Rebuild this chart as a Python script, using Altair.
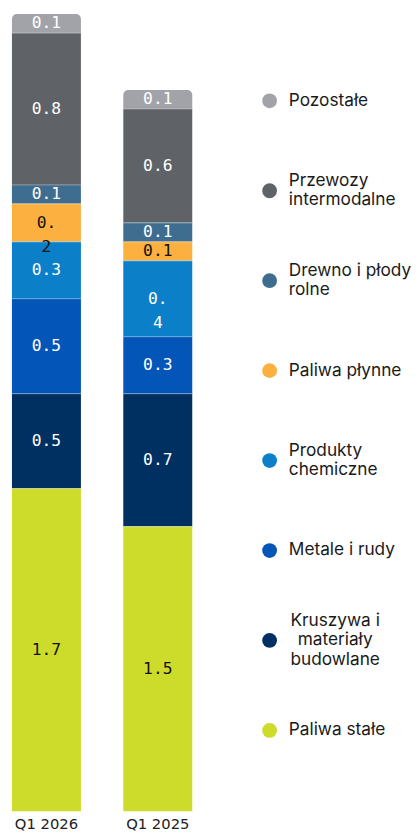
import altair as alt
import pandas as pd

periods = ["Q1 2026", "Q1 2025"]
categories = [
    "Pozostałe",
    "Przewozy intermodalne",
    "Drewno i płody rolne",
    "Paliwa płynne",
    "Produkty chemiczne",
    "Metale i rudy",
    "Kruszywa i materiały budowlane",
    "Paliwa stałe",
]
values_q1_2026 = [0.1, 0.8, 0.1, 0.2, 0.3, 0.5, 0.5, 1.7]
values_q1_2025 = [0.1, 0.6, 0.1, 0.1, 0.4, 0.3, 0.7, 1.5]
labels_q1_2026 = ["0.1", "0.8", "0.1", "0.\n2", "0.3", "0.5", "0.5", "1.7"]
labels_q1_2025 = ["0.1", "0.6", "0.1", "0.1", "0.\n4", "0.3", "0.7", "1.5"]
legend_labels = [
    "Pozostałe",
    "Przewozy\nintermodalne",
    "Drewno i płody\nrolne",
    "Paliwa płynne",
    "Produkty\nchemiczne",
    "Metale i rudy",
    "Kruszywa i\nmateriały\nbudowlane",
    "Paliwa stałe",
]
colors = ["#a2a3a8", "#5f6368", "#3e6d90", "#fbb040", "#0b7fc7", "#0356b8", "#002f62", "#cddc2b"]

rows = []
for p, vals, labs in [(periods[0], values_q1_2026, labels_q1_2026),
                      (periods[1], values_q1_2025, labels_q1_2025)]:
    for i, (c, v, l) in enumerate(zip(categories, vals, labs)):
        rows.append({"period": p, "category": c, "value": v, "label": l,
                     "rank": len(categories) - 1 - i})
df = pd.DataFrame(rows)

legend_df = pd.DataFrame({
    "category": categories,
    "label": legend_labels,
    "lines": [len(s.split("\n")) for s in legend_labels],
})

color_scale = alt.Scale(domain=categories, range=colors)

base = alt.Chart(df).transform_stack(
    stack="value", groupby=["period"], as_=["y0", "y1"],
    sort=[alt.SortField("rank", order="ascending")],
).transform_calculate(mid="(datum.y0 + datum.y1) / 2")

x_enc = alt.X(
    "period:N",
    sort=periods,
    scale=alt.Scale(paddingInner=0.3805, paddingOuter=0.0354),
    axis=alt.Axis(title=None, labelAngle=0, domain=False, ticks=False,
                  labelFont="DejaVu Sans", labelFontSize=15, labelColor="#222222",
                  labelPadding=6),
)
y_scale = alt.Scale(domain=[0, 4.2], nice=False, zero=True)

bars = base.transform_filter("datum.category != 'Pozostałe'").mark_bar().encode(
    x=x_enc,
    y=alt.Y("y0:Q", scale=y_scale, axis=None),
    y2="y1:Q",
    color=alt.Color("category:N", scale=color_scale, legend=None),
)
top_bars = base.transform_filter("datum.category == 'Pozostałe'").mark_bar(
    cornerRadiusTopLeft=5, cornerRadiusTopRight=5
).encode(
    x=x_enc,
    y=alt.Y("y0:Q", scale=y_scale, axis=None),
    y2="y1:Q",
    color=alt.Color("category:N", scale=color_scale, legend=None),
)
seps = base.transform_filter("datum.category != 'Pozostałe'").mark_tick(
    size=70, thickness=1.2, color="white", opacity=0.3
).encode(
    x=x_enc,
    y=alt.Y("y1:Q", scale=y_scale, axis=None),
)
texts = base.mark_text(
    font="DejaVu Sans Mono", fontSize=16.5, baseline="middle", align="center",
    lineBreak="\n", lineHeight=25,
).encode(
    x=x_enc,
    y=alt.Y("mid:Q", scale=y_scale, axis=None),
    text="label:N",
    color=alt.condition(
        "datum.category == 'Paliwa płynne' || datum.category == 'Paliwa stałe'",
        alt.value("#111111"), alt.value("#ffffff"),
    ),
)

bar_chart = alt.layer(bars, top_bars, seps, texts).properties(width=191, height=809)

ly = alt.Y("category:N",
           scale=alt.Scale(type="point", domain=categories, range=[88, 727], padding=0),
           axis=None)
lbase = alt.Chart(legend_df)
dots = lbase.mark_circle(size=225, opacity=1).encode(
    x=alt.value(16.5), y=ly,
    color=alt.Color("category:N", scale=color_scale, legend=None),
)
tfont = dict(font="Inter", fontSize=17.5, baseline="middle", lineBreak="\n",
             lineHeight=19.5, color="#1a1a1a")
t1 = lbase.transform_filter("datum.lines == 1").mark_text(align="left", **tfont).encode(
    x=alt.value(36), y=ly, text="label:N")
t2 = lbase.transform_filter("datum.lines == 2").mark_text(align="left", dy=-9.75, **tfont).encode(
    x=alt.value(36), y=ly, text="label:N")
t3 = lbase.transform_filter("datum.lines == 3").mark_text(align="center", dy=-19.5, **tfont).encode(
    x=alt.value(83), y=ly, text="label:N")
legend_chart = alt.layer(dots, t1, t2, t3).properties(width=140, height=809)

chart = alt.hconcat(bar_chart, legend_chart, spacing=58).properties(
    padding={"left": 0, "top": 0, "right": 0, "bottom": 0}
).configure_view(stroke=None)

chart.save("out.html", embed_options={"renderer": "svg", "actions": False})
